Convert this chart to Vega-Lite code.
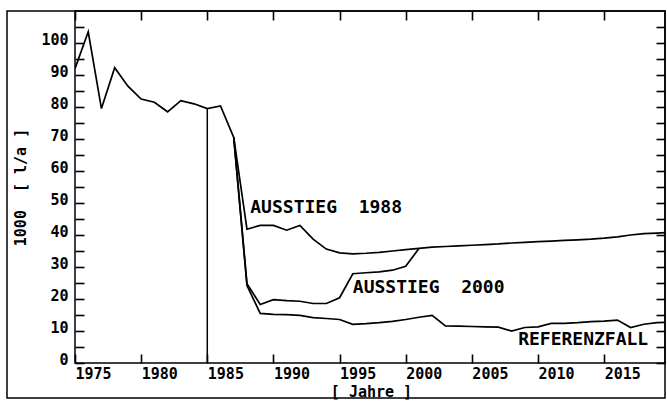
{
  "$schema": "https://vega.github.io/schema/vega-lite/v6.json",
  "width": 590,
  "height": 352,
  "autosize": {"type": "none"},
  "padding": {"left": 75, "top": 11, "right": 2, "bottom": 38},
  "background": "white",
  "config": {
    "view": {"stroke": "black", "strokeWidth": 1.5},
    "axis": {
      "domain": false,
      "grid": false,
      "tickColor": "black",
      "tickWidth": 1.6,
      "tickSize": -9,
      "labelColor": "black",
      "labelFont": "DejaVu Sans Mono",
      "labelFontSize": 15,
      "labelFontWeight": "bold",
      "titleColor": "black",
      "titleFont": "DejaVu Sans Mono",
      "titleFontSize": 15,
      "titleFontWeight": "bold"
    },
    "text": {"font": "DejaVu Sans Mono"}
  },
  "datasets": {
    "kurven": [
      {"year": 1975, "value": 92.0, "series": "Referenzfall"},
      {"year": 1976, "value": 103.5, "series": "Referenzfall"},
      {"year": 1977, "value": 79.5, "series": "Referenzfall"},
      {"year": 1978, "value": 92.3, "series": "Referenzfall"},
      {"year": 1979, "value": 86.5, "series": "Referenzfall"},
      {"year": 1980, "value": 82.5, "series": "Referenzfall"},
      {"year": 1981, "value": 81.5, "series": "Referenzfall"},
      {"year": 1982, "value": 78.5, "series": "Referenzfall"},
      {"year": 1983, "value": 82.0, "series": "Referenzfall"},
      {"year": 1984, "value": 81.0, "series": "Referenzfall"},
      {"year": 1985, "value": 79.5, "series": "Referenzfall"},
      {"year": 1986, "value": 80.3, "series": "Referenzfall"},
      {"year": 1987, "value": 70.5, "series": "Referenzfall"},
      {"year": 1988, "value": 24.2, "series": "Referenzfall"},
      {"year": 1989, "value": 15.5, "series": "Referenzfall"},
      {"year": 1990, "value": 15.2, "series": "Referenzfall"},
      {"year": 1991, "value": 15.1, "series": "Referenzfall"},
      {"year": 1992, "value": 14.9, "series": "Referenzfall"},
      {"year": 1993, "value": 14.2, "series": "Referenzfall"},
      {"year": 1994, "value": 13.9, "series": "Referenzfall"},
      {"year": 1995, "value": 13.6, "series": "Referenzfall"},
      {"year": 1996, "value": 12.1, "series": "Referenzfall"},
      {"year": 1997, "value": 12.3, "series": "Referenzfall"},
      {"year": 1998, "value": 12.6, "series": "Referenzfall"},
      {"year": 1999, "value": 13.0, "series": "Referenzfall"},
      {"year": 2000, "value": 13.6, "series": "Referenzfall"},
      {"year": 2001, "value": 14.3, "series": "Referenzfall"},
      {"year": 2002, "value": 14.9, "series": "Referenzfall"},
      {"year": 2003, "value": 11.6, "series": "Referenzfall"},
      {"year": 2004, "value": 11.5, "series": "Referenzfall"},
      {"year": 2005, "value": 11.4, "series": "Referenzfall"},
      {"year": 2006, "value": 11.3, "series": "Referenzfall"},
      {"year": 2007, "value": 11.2, "series": "Referenzfall"},
      {"year": 2008, "value": 10.0, "series": "Referenzfall"},
      {"year": 2009, "value": 11.1, "series": "Referenzfall"},
      {"year": 2010, "value": 11.3, "series": "Referenzfall"},
      {"year": 2011, "value": 12.4, "series": "Referenzfall"},
      {"year": 2012, "value": 12.4, "series": "Referenzfall"},
      {"year": 2013, "value": 12.6, "series": "Referenzfall"},
      {"year": 2014, "value": 12.9, "series": "Referenzfall"},
      {"year": 2015, "value": 13.1, "series": "Referenzfall"},
      {"year": 2016, "value": 13.4, "series": "Referenzfall"},
      {"year": 2017, "value": 11.1, "series": "Referenzfall"},
      {"year": 2018, "value": 12.1, "series": "Referenzfall"},
      {"year": 2019, "value": 12.6, "series": "Referenzfall"},
      {"year": 2020, "value": 12.8, "series": "Referenzfall"},
      {"year": 1987, "value": 70.5, "series": "Ausstieg 1988"},
      {"year": 1988, "value": 41.8, "series": "Ausstieg 1988"},
      {"year": 1989, "value": 43.0, "series": "Ausstieg 1988"},
      {"year": 1990, "value": 43.0, "series": "Ausstieg 1988"},
      {"year": 1991, "value": 41.5, "series": "Ausstieg 1988"},
      {"year": 1992, "value": 43.0, "series": "Ausstieg 1988"},
      {"year": 1993, "value": 38.7, "series": "Ausstieg 1988"},
      {"year": 1994, "value": 35.6, "series": "Ausstieg 1988"},
      {"year": 1995, "value": 34.4, "series": "Ausstieg 1988"},
      {"year": 1996, "value": 34.1, "series": "Ausstieg 1988"},
      {"year": 1997, "value": 34.3, "series": "Ausstieg 1988"},
      {"year": 1998, "value": 34.6, "series": "Ausstieg 1988"},
      {"year": 1999, "value": 35.0, "series": "Ausstieg 1988"},
      {"year": 2000, "value": 35.4, "series": "Ausstieg 1988"},
      {"year": 2001, "value": 35.8, "series": "Ausstieg 1988"},
      {"year": 2002, "value": 36.2, "series": "Ausstieg 1988"},
      {"year": 2003, "value": 36.4, "series": "Ausstieg 1988"},
      {"year": 2004, "value": 36.6, "series": "Ausstieg 1988"},
      {"year": 2005, "value": 36.8, "series": "Ausstieg 1988"},
      {"year": 2006, "value": 37.0, "series": "Ausstieg 1988"},
      {"year": 2007, "value": 37.2, "series": "Ausstieg 1988"},
      {"year": 2008, "value": 37.5, "series": "Ausstieg 1988"},
      {"year": 2009, "value": 37.7, "series": "Ausstieg 1988"},
      {"year": 2010, "value": 37.9, "series": "Ausstieg 1988"},
      {"year": 2011, "value": 38.1, "series": "Ausstieg 1988"},
      {"year": 2012, "value": 38.3, "series": "Ausstieg 1988"},
      {"year": 2013, "value": 38.5, "series": "Ausstieg 1988"},
      {"year": 2014, "value": 38.7, "series": "Ausstieg 1988"},
      {"year": 2015, "value": 39.0, "series": "Ausstieg 1988"},
      {"year": 2016, "value": 39.4, "series": "Ausstieg 1988"},
      {"year": 2017, "value": 40.0, "series": "Ausstieg 1988"},
      {"year": 2018, "value": 40.4, "series": "Ausstieg 1988"},
      {"year": 2019, "value": 40.6, "series": "Ausstieg 1988"},
      {"year": 2020, "value": 40.8, "series": "Ausstieg 1988"},
      {"year": 1987, "value": 70.5, "series": "Ausstieg 2000"},
      {"year": 1988, "value": 24.8, "series": "Ausstieg 2000"},
      {"year": 1989, "value": 18.3, "series": "Ausstieg 2000"},
      {"year": 1990, "value": 19.8, "series": "Ausstieg 2000"},
      {"year": 1991, "value": 19.5, "series": "Ausstieg 2000"},
      {"year": 1992, "value": 19.3, "series": "Ausstieg 2000"},
      {"year": 1993, "value": 18.6, "series": "Ausstieg 2000"},
      {"year": 1994, "value": 18.6, "series": "Ausstieg 2000"},
      {"year": 1995, "value": 20.4, "series": "Ausstieg 2000"},
      {"year": 1996, "value": 27.9, "series": "Ausstieg 2000"},
      {"year": 1997, "value": 28.2, "series": "Ausstieg 2000"},
      {"year": 1998, "value": 28.5, "series": "Ausstieg 2000"},
      {"year": 1999, "value": 29.0, "series": "Ausstieg 2000"},
      {"year": 2000, "value": 30.2, "series": "Ausstieg 2000"},
      {"year": 2001, "value": 35.8, "series": "Ausstieg 2000"}
    ],
    "marke": [
      {"year": 1985, "value": 79.5}
    ],
    "beschriftung": [
      {"text": "AUSSTIEG\u00a0\u00a01988", "year": 1988.25, "value": 48.4},
      {"text": "AUSSTIEG\u00a0\u00a02000", "year": 1996.0, "value": 23.4},
      {"text": "REFERENZFALL", "year": 2008.5, "value": 7.2}
    ]
  },
  "resolve": {"axis": {"x": "independent", "y": "independent"}},
  "layer": [
    {
      "data": {"name": "kurven"},
      "mark": {"type": "line", "color": "black", "strokeWidth": 1.7, "clip": true},
      "encoding": {
        "x": {
          "field": "year", "type": "quantitative",
          "scale": {"domain": [1975, 2019.6], "nice": false, "zero": false},
          "axis": {
            "orient": "bottom",
            "values": [1975, 1980, 1985, 1990, 1995, 2000, 2005, 2010, 2015],
            "format": "d",
            "labelAlign": "left",
            "labelBaseline": "middle",
            "labelPadding": 19,
            "labelFlush": false,
            "labelOverlap": false,
            "title": "[ Jahre ]",
            "titleX": 296,
            "titleY": 28,
            "titleAlign": "center",
            "titleBaseline": "middle"
          }
        },
        "y": {
          "field": "value", "type": "quantitative",
          "scale": {"domain": [0, 110], "nice": false},
          "axis": {
            "orient": "left",
            "values": [0, 5, 10, 15, 20, 25, 30, 35, 40, 45, 50, 55, 60, 65, 70, 75, 80, 85, 90, 95, 100, 105],
            "labelExpr": "datum.value % 10 === 0 ? datum.label : ''",
            "labelAlign": "right",
            "labelBaseline": "middle",
            "labelOffset": -4,
            "labelPadding": 16,
            "labelOverlap": false,
            "labelFlush": false,
            "title": "1000\u00a0\u00a0[ l/a ]",
            "titleX": -55,
            "titleY": 176,
            "titleAngle": -90,
            "titleAlign": "center",
            "titleBaseline": "middle"
          }
        },
        "detail": {"field": "series", "type": "nominal"}
      }
    },
    {
      "data": {"name": "marke"},
      "mark": {"type": "rule", "color": "black", "strokeWidth": 1.5},
      "encoding": {
        "x": {
          "field": "year", "type": "quantitative",
          "axis": {
            "orient": "top",
            "values": [1975, 1980, 1985, 1990, 1995, 2000, 2005, 2010, 2015],
            "labels": false,
            "title": null
          }
        },
        "y": {
          "field": "value", "type": "quantitative",
          "axis": {
            "orient": "right",
            "values": [0, 5, 10, 15, 20, 25, 30, 35, 40, 45, 50, 55, 60, 65, 70, 75, 80, 85, 90, 95, 100, 105],
            "labels": false,
            "title": null
          }
        },
        "y2": {"datum": 0}
      }
    },
    {
      "data": {"name": "beschriftung"},
      "mark": {"type": "text", "align": "left", "baseline": "middle", "fontSize": 18, "fontWeight": "bold", "color": "black"},
      "encoding": {
        "x": {"field": "year", "type": "quantitative", "axis": null},
        "y": {"field": "value", "type": "quantitative", "axis": null},
        "text": {"field": "text"}
      }
    },
    {
      "data": {"values": [{"frame": 1}]},
      "mark": {"type": "rect", "fillOpacity": 0, "stroke": "black", "strokeWidth": 1.5, "clip": false},
      "encoding": {
        "x": {"datum": 1969.86, "type": "quantitative", "axis": null},
        "x2": {"datum": 2019.6},
        "y": {"datum": -10.9, "type": "quantitative", "axis": null},
        "y2": {"datum": 110}
      }
    }
  ]
}
